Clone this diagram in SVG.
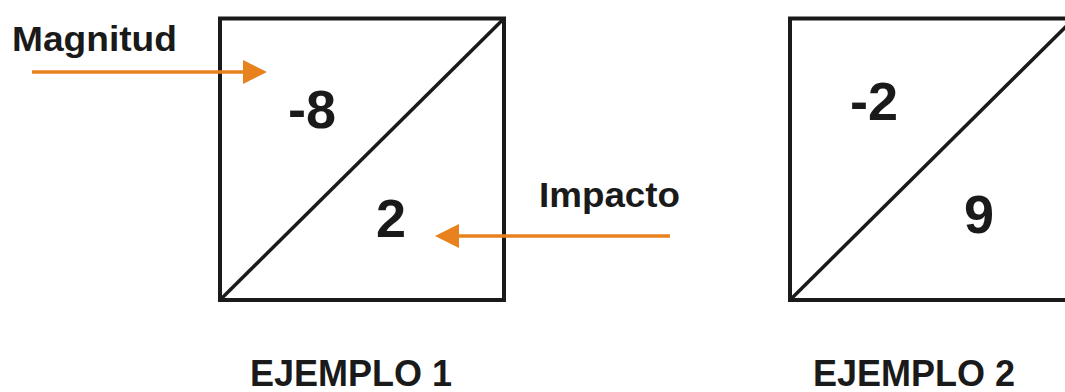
<svg xmlns="http://www.w3.org/2000/svg" width="1065" height="392" viewBox="0 0 1065 392">
<style>
.box{fill:none;stroke:#1a1a1a;stroke-width:4}
.diag{stroke:#1a1a1a;stroke-width:3.5}
.arr{stroke:#E8821E;stroke-width:3.5;fill:none}
text{font-family:"Liberation Sans",Arial,sans-serif;font-weight:bold;fill:#1a1a1a}
.lbl{font-size:35px}
.num{font-size:54px}
.cap{font-size:36px}
</style>
<defs>
<marker id="ah" markerUnits="userSpaceOnUse" markerWidth="24" markerHeight="24" viewBox="0 0 24 24" refX="7" refY="12" orient="auto">
<path d="M0,0 L24,12 L0,24 z" fill="#E8821E"/>
</marker>
</defs>
<rect width="1065" height="392" fill="#ffffff"/>
<g id="ejemplo1">
<rect class="box" x="220" y="18.5" width="284" height="281.5"/>
<line class="diag" x1="221" y1="299" x2="503" y2="19.5"/>
<text class="num" x="288" y="128">-8</text>
<text class="num" x="376" y="237">2</text>
<text class="cap" x="250" y="386">EJEMPLO 1</text>
</g>
<g id="ejemplo2">
<rect class="box" x="790" y="18.5" width="284" height="281.5"/>
<line class="diag" x1="791" y1="299" x2="1073" y2="19.5"/>
<text class="num" x="850" y="120">-2</text>
<text class="num" x="964" y="233">9</text>
<text class="cap" x="813" y="386">EJEMPLO 2</text>
</g>
<g id="magnitud">
<text class="lbl" x="12" y="51" textLength="165" lengthAdjust="spacingAndGlyphs">Magnitud</text>
</g>
<g id="impacto">
<text class="lbl" x="539" y="207" textLength="141" lengthAdjust="spacingAndGlyphs">Impacto</text>
</g>
<g id="connectors">
<line class="arr" x1="32" y1="72" x2="250" y2="72" marker-end="url(#ah)"/>
<line class="arr" x1="670" y1="236" x2="452" y2="236" marker-end="url(#ah)"/>
</g>
</svg>
